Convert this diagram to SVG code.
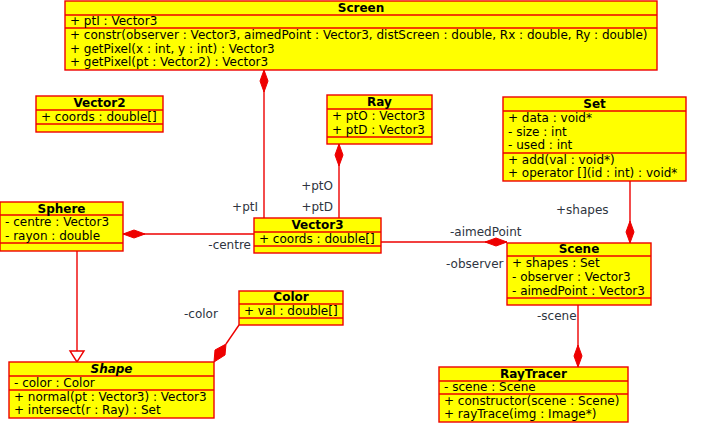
<svg xmlns="http://www.w3.org/2000/svg" width="703" height="434" viewBox="0 0 703 434">
<defs>
<style>
.box{fill:#ffff00;stroke:#ee0000;stroke-width:1.4}
.div{stroke:#ee0000;stroke-width:1.4}
.t{font-family:"DejaVu Sans",sans-serif;font-size:12px;fill:#000}
.h{font-family:"DejaVu Sans",sans-serif;font-size:12px;font-weight:bold;fill:#000;text-anchor:middle}
.l{font-family:"DejaVu Sans",sans-serif;font-size:12px;fill:#2e3440}
.c{stroke:#ee0000;stroke-width:1.4;fill:none}
.dm{fill:#ee0000;stroke:#ee0000;stroke-width:1}
</style>
</defs>
<rect width="703" height="434" fill="#fff"/>
<g id="connectors">
<line class="c" x1="264" y1="70" x2="264" y2="218"/>
<polygon class="dm" points="264,70 268,81 264,92 260,81"/>
<line class="c" x1="339" y1="144" x2="339" y2="218"/>
<polygon class="dm" points="339,144 343,155 339,166 335,155"/>
<line class="c" x1="254" y1="234" x2="123" y2="234"/>
<polygon class="dm" points="123,234 134,230 145,234 134,238"/>
<line class="c" x1="381" y1="242" x2="507" y2="242"/>
<polygon class="dm" points="507,242 496,238 485,242 496,246"/>
<line class="c" x1="630" y1="181" x2="630" y2="243"/>
<polygon class="dm" points="630,243 626,232 630,221 634,232"/>
<line class="c" x1="578" y1="305" x2="578" y2="367"/>
<polygon class="dm" points="578,367 574,356 578,345 582,356"/>
<line class="c" x1="77" y1="251" x2="77" y2="351"/>
<polygon class="c" points="77,362 70,351 84,351" fill="#fff"/>
<line class="c" x1="239" y1="325" x2="226" y2="344"/>
<polygon class="dm" points="214,362 215,350 226,344 225,355"/>
<text class="l" x="258" y="211" text-anchor="end">+ptI</text>
<text class="l" x="333" y="190" text-anchor="end">+ptO</text>
<text class="l" x="333" y="211" text-anchor="end">+ptD</text>
<text class="l" x="251" y="249" text-anchor="end">-centre</text>
<text class="l" x="450" y="236">-aimedPoint</text>
<text class="l" x="446" y="268">-observer</text>
<text class="l" x="556" y="214">+shapes</text>
<text class="l" x="537" y="320">-scene</text>
<text class="l" x="184" y="318">-color</text>
</g>
<g id="Screen">
<rect class="box" x="65" y="1" width="592" height="69"/>
<line class="div" x1="65" y1="15" x2="657" y2="15"/>
<line class="div" x1="65" y1="28" x2="657" y2="28"/>
<text class="h" x="361" y="12">Screen</text>
<text class="t" x="70" y="25">+ ptI : Vector3</text>
<text class="t" x="70" y="39">+ constr(observer : Vector3, aimedPoint : Vector3, distScreen : double, Rx : double, Ry : double)</text>
<text class="t" x="70" y="53">+ getPixel(x : int, y : int) : Vector3</text>
<text class="t" x="70" y="66">+ getPixel(pt : Vector2) : Vector3</text>
</g>
<g id="Vector2">
<rect class="box" x="36" y="96" width="127" height="36"/>
<line class="div" x1="36" y1="110" x2="163" y2="110"/>
<line class="div" x1="36" y1="124" x2="163" y2="124"/>
<text class="h" x="99.5" y="107">Vector2</text>
<text class="t" x="41" y="121">+ coords : double[]</text>
</g>
<g id="Ray">
<rect class="box" x="327" y="95" width="105" height="49"/>
<line class="div" x1="327" y1="109" x2="432" y2="109"/>
<line class="div" x1="327" y1="137" x2="432" y2="137"/>
<text class="h" x="379.5" y="106">Ray</text>
<text class="t" x="332" y="120">+ ptO : Vector3</text>
<text class="t" x="332" y="134">+ ptD : Vector3</text>
</g>
<g id="Set">
<rect class="box" x="503" y="97" width="183" height="84"/>
<line class="div" x1="503" y1="111" x2="686" y2="111"/>
<line class="div" x1="503" y1="153" x2="686" y2="153"/>
<text class="h" x="594.5" y="108">Set</text>
<text class="t" x="508" y="122">+ data : void*</text>
<text class="t" x="508" y="136">- size : int</text>
<text class="t" x="508" y="149">- used : int</text>
<text class="t" x="508" y="164">+ add(val : void*)</text>
<text class="t" x="508" y="177">+ operator [](id : int) : void*</text>
</g>
<g id="Sphere">
<rect class="box" x="0" y="202" width="123" height="49"/>
<line class="div" x1="0" y1="215" x2="123" y2="215"/>
<line class="div" x1="0" y1="243" x2="123" y2="243"/>
<text class="h" x="61.5" y="213">Sphere</text>
<text class="t" x="5" y="226">- centre : Vector3</text>
<text class="t" x="5" y="240">- rayon : double</text>
</g>
<g id="Vector3">
<rect class="box" x="254" y="218" width="127" height="35"/>
<line class="div" x1="254" y1="232" x2="381" y2="232"/>
<line class="div" x1="254" y1="246" x2="381" y2="246"/>
<text class="h" x="317.5" y="229">Vector3</text>
<text class="t" x="259" y="243">+ coords : double[]</text>
</g>
<g id="Scene">
<rect class="box" x="507" y="243" width="144" height="62"/>
<line class="div" x1="507" y1="256" x2="651" y2="256"/>
<line class="div" x1="507" y1="298" x2="651" y2="298"/>
<text class="h" x="579" y="253">Scene</text>
<text class="t" x="512" y="267">+ shapes : Set</text>
<text class="t" x="512" y="281">- observer : Vector3</text>
<text class="t" x="512" y="295">- aimedPoint : Vector3</text>
</g>
<g id="Color">
<rect class="box" x="239" y="291" width="104" height="34"/>
<line class="div" x1="239" y1="304" x2="343" y2="304"/>
<line class="div" x1="239" y1="318" x2="343" y2="318"/>
<text class="h" x="291" y="301">Color</text>
<text class="t" x="244" y="315">+ val : double[]</text>
</g>
<g id="Shape">
<rect class="box" x="9" y="362" width="205" height="56"/>
<line class="div" x1="9" y1="376" x2="214" y2="376"/>
<line class="div" x1="9" y1="390" x2="214" y2="390"/>
<text class="h" x="111.5" y="373" font-style="italic">Shape</text>
<text class="t" x="14" y="387">- color : Color</text>
<text class="t" x="14" y="401">+ normal(pt : Vector3) : Vector3</text>
<text class="t" x="14" y="414">+ intersect(r : Ray) : Set</text>
</g>
<g id="RayTracer">
<rect class="box" x="439" y="367" width="189" height="55"/>
<line class="div" x1="439" y1="381" x2="628" y2="381"/>
<line class="div" x1="439" y1="394" x2="628" y2="394"/>
<text class="h" x="533.5" y="378">RayTracer</text>
<text class="t" x="444" y="391">- scene : Scene</text>
<text class="t" x="444" y="405">+ constructor(scene : Scene)</text>
<text class="t" x="444" y="418">+ rayTrace(img : Image*)</text>
</g>
</svg>
